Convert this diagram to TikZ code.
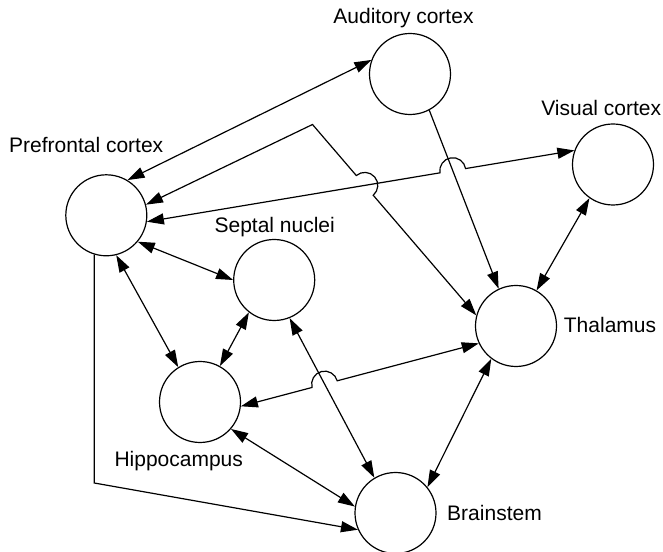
\documentclass[tikz,border=0pt]{standalone}
\usepackage{fontspec}
\setmainfont{Liberation Sans}
\usetikzlibrary{arrows.meta,calc,intersections}
\begin{document}
\begin{tikzpicture}[x=1pt,y=1pt,
  region/.style={circle,draw,line width=1.2pt,minimum size=81pt,inner sep=0pt},
  lbl/.style={anchor=base,inner sep=0pt,font=\fontsize{21}{25}\selectfont},
  link/.style={line width=1.2pt},
  tip/.tip={Triangle[length=17pt,width=11pt]},
  both/.style={link,tip-tip},
  one/.style={link,-tip},
]
\useasboundingbox (0,0) rectangle (663,551);

% brain regions
\node[region] (pfc)  at (106.3,335.7) {};
\node[region] (aud)  at (410,477) {};
\node[region] (vis)  at (613,386.5) {};
\node[region] (sep)  at (274.2,271) {};
\node[region] (thal) at (516,225) {};
\node[region] (hip)  at (200,149) {};
\node[region] (bs)   at (395.5,38) {};

% labels
\node[lbl] (laud)  at (403.5,527.7) {Auditory cortex};
\node[lbl] (lvis)  at (601.2,435)   {Visual cortex};
\node[lbl] (lpfc)  at (86.2,398.3)  {Prefrontal cortex};
\node[lbl] (lsep)  at (274.7,318.3) {Septal nuclei};
\node[lbl] (lthal) at (610,218.7)   {Thalamus};
\node[lbl] (lhip)  at (178.7,84.3)  {Hippocampus};
\node[lbl] (lbs)   at (494.5,30.3)  {Brainstem};

% bend points
\coordinate (c1) at (312.5,426.5);
\coordinate (c2y) at (0,68);

% crossing points for the line hops
\path[name path=pvline] (pfc.-9) -- (vis.160);
\path[name path=atline] (aud.-62) -- (thal.115);
\path[name path=cline] (c1) -- (thal.165);
\path[name path=sbline] (sep.-68) -- (bs.121);
\path[name path=htline] (hip.-6) -- (thal.205);
\path[name intersections={of=pvline and atline,by=x1}];
\path[name intersections={of=cline and pvline,by=x2}];
\path[name intersections={of=htline and sbline,by=x3}];

% straight connections
\draw[both] (pfc.59) -- (aud.160);
\draw[one]  (aud.-62) -- (thal.115);
\draw[both] (vis.235) -- (thal.60);
\draw[both] (pfc.-40) -- (sep.180);
\draw[both] (pfc.-76) -- (hip.122);
\draw[both] (sep.232) -- (hip.61);
\draw[both] (sep.-68) -- (bs.121);
\draw[both] (hip.-41) -- (bs.171);
\draw[both] (thal.233) -- (bs.39);
\draw[one]  (pfc.253) -- (pfc.253 |- c2y) -- (bs.204);

% connections with hops
\draw[both] (pfc.-9) -- ($(x1)!13pt!(pfc.-9)$)
  let \p1=($(pfc.-9)-(x1)$), \n1={atan2(\y1,\x1)} in
  arc[start angle=\n1, delta angle=-180, radius=13pt] -- (vis.160);
\draw[both] (pfc.15) -- (c1) -- ($(x2)!13pt!(c1)$)
  let \p1=($(c1)-(x2)$), \n1={atan2(\y1,\x1)} in
  arc[start angle=\n1, delta angle=-180, radius=13pt] -- (thal.165);
\draw[both] (hip.-6) -- ($(x3)!13pt!(hip.-6)$)
  let \p1=($(hip.-6)-(x3)$), \n1={atan2(\y1,\x1)} in
  arc[start angle=\n1, delta angle=-180, radius=13pt] -- (thal.205);
\end{tikzpicture}
\end{document}
